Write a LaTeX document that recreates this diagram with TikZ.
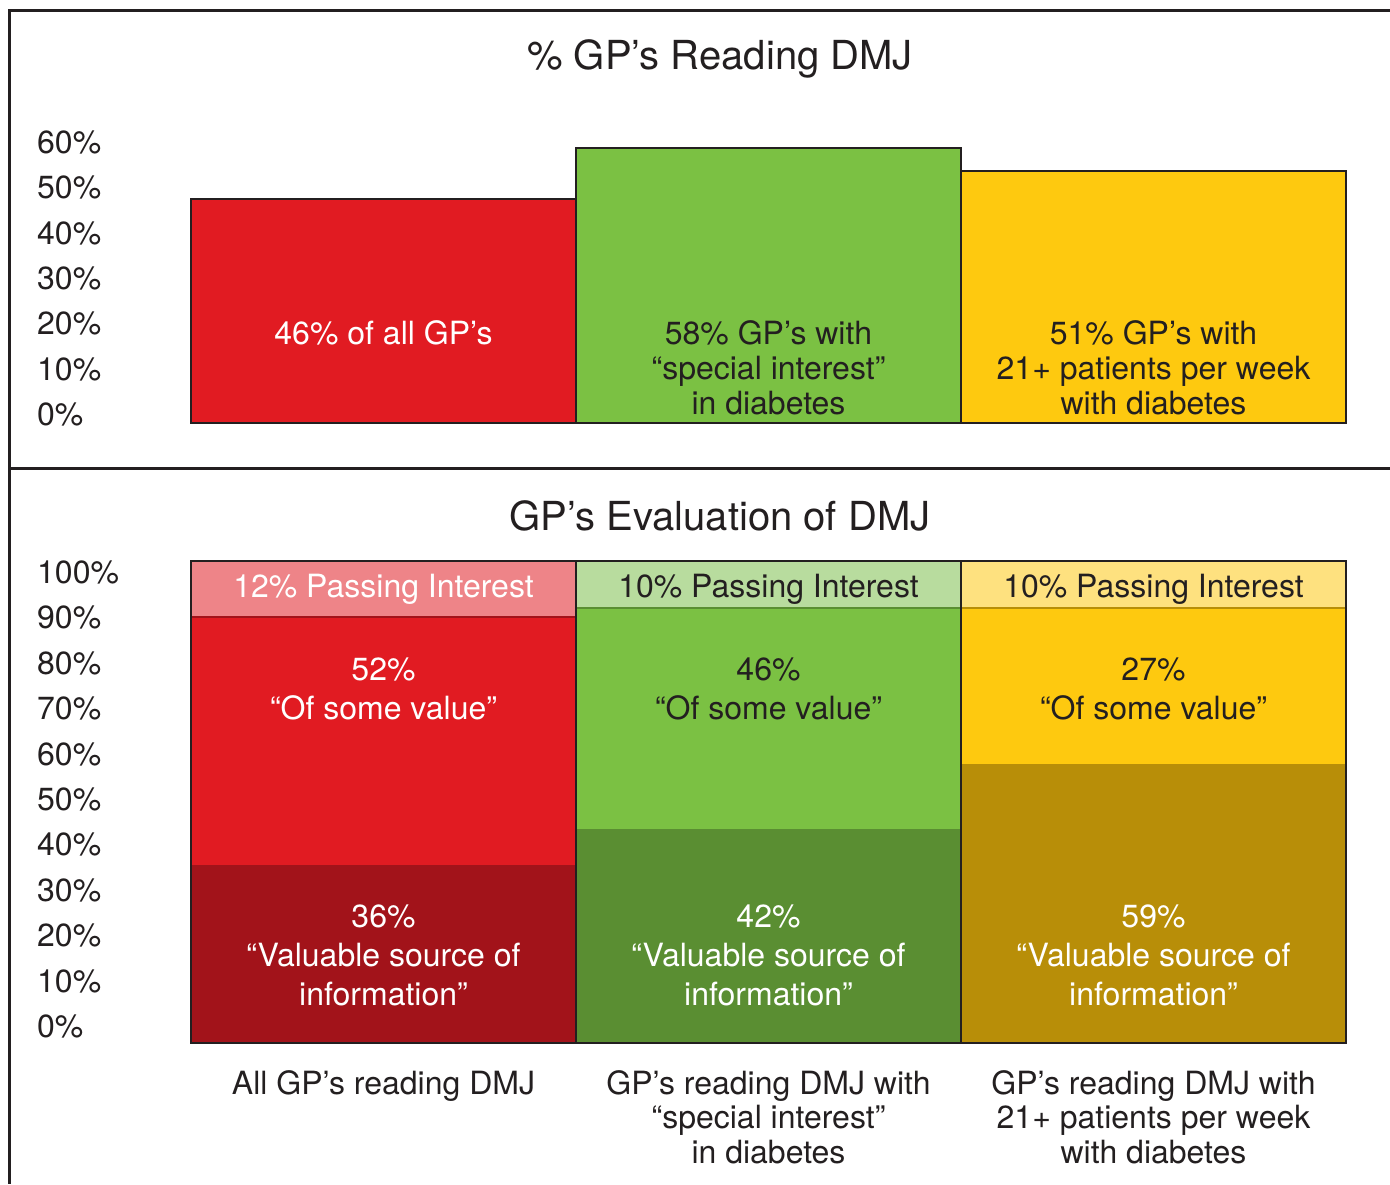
\documentclass[tikz,border=0pt]{standalone}
\usepackage{fontspec}
\setmainfont{TeX Gyre Heros}
\usepackage{tikz}
\definecolor{ink}{HTML}{231F20}
\definecolor{cred}{HTML}{E11B22}
\definecolor{cdarkred}{HTML}{A2131A}
\definecolor{clightred}{HTML}{EE8488}
\definecolor{cgreen}{HTML}{7BC143}
\definecolor{cdarkgreen}{HTML}{5A8E32}
\definecolor{clightgreen}{HTML}{B8DC9E}
\definecolor{cyellow}{HTML}{FEC90F}
\definecolor{cdarkyellow}{HTML}{B88E08}
\definecolor{clightyellow}{HTML}{FEE17F}
\tikzset{
  frameline/.style={draw=ink, line width=3pt},
  barline/.style={draw=ink, line width=2.6pt},
  sepline/.style={line width=1.6pt},
  ttl/.style={inner sep=0pt, anchor=base, text=ink, font=\fontsize{40}{44}\selectfont},
  ticklbl/.style={inner sep=0pt, anchor=base west, text=ink, font=\fontsize{32}{35}\selectfont},
  bartxt/.style={inner sep=0pt, align=center, font=\fontsize{32}{35}\selectfont},
  segtxt/.style={inner sep=0pt, align=center, font=\fontsize{32}{39}\selectfont},
  catlbl/.style={inner sep=0pt, align=center, text=ink, font=\fontsize{32}{34.5}\selectfont}
}

\begin{document}
\begin{tikzpicture}[x=1pt,y=-1pt]
  \useasboundingbox (0,0) rectangle (1390,1184);

  % frame and divider
  \draw[frameline] (1390,10) -- (9.5,10) -- (9.5,1184);
  \draw[frameline] (9.5,468) -- (1390,468);

  %% upper chart
  \node[ttl] (topttl) at (720,69.4) {\% GP’s Reading DMJ};
  \foreach \v [count=\i from 0] in {0,10,...,60}
    \node[ticklbl] (ta\i) at (37,425.5-45.33*\i) {\v\%};

  \draw[barline, fill=cred] (191,423) rectangle (576,199);
  \draw[barline, fill=cgreen] (576,423) rectangle (961,148);
  \draw[barline, fill=cyellow] (961,423) rectangle (1346,171);

  \node[bartxt, anchor=base, text=white] (redtxt) at (383.5,344.5) {46\% of all GP’s};
  \node[bartxt, text=ink] (greentxt) at (768.5,368) {58\% GP’s with\\“special interest”\\in diabetes};
  \node[bartxt, text=ink] (yellowtxt) at (1153.5,368) {51\% GP’s with\\21+ patients per week\\with diabetes};

  %% lower chart
  \node[ttl] (botttl) at (720,530.4) {GP’s Evaluation of DMJ};
  \foreach \v [count=\i from 0] in {0,10,...,100}
    \node[ticklbl] (tb\i) at (37,1037.5-45.4*\i) {\v\%};

  % red column
  \fill[clightred] (191,561) rectangle (576,617);
  \fill[cred] (191,617) rectangle (576,865);
  \fill[cdarkred] (191,865) rectangle (576,1043);
  \draw[sepline, draw=cdarkred] (191,617) -- (576,617);
  % green column
  \fill[clightgreen] (576,561) rectangle (961,608);
  \fill[cgreen] (576,608) rectangle (961,829);
  \fill[cdarkgreen] (576,829) rectangle (961,1043);
  \draw[sepline, draw=cdarkgreen] (576,608) -- (961,608);
  % yellow column
  \fill[clightyellow] (961,561) rectangle (1346,608);
  \fill[cyellow] (961,608) rectangle (1346,764);
  \fill[cdarkyellow] (961,764) rectangle (1346,1043);
  \draw[sepline, draw=cdarkyellow] (961,608) -- (1346,608);

  \draw[barline] (191,561) rectangle (576,1043);
  \draw[barline] (576,561) rectangle (961,1043);
  \draw[barline] (961,561) rectangle (1346,1043);

  \node[bartxt, anchor=base, text=white] (redpass) at (383.5,597.5) {12\% Passing Interest};
  \node[bartxt, anchor=base, text=ink] (greenpass) at (768.5,597.5) {10\% Passing Interest};
  \node[bartxt, anchor=base, text=ink] (yellowpass) at (1153.5,597.5) {10\% Passing Interest};

  \node[segtxt, text=white] (redsome) at (383.5,688.5) {52\%\\“Of some value”};
  \node[segtxt, text=ink] (greensome) at (768.5,688.5) {46\%\\“Of some value”};
  \node[segtxt, text=ink] (yellowsome) at (1153.5,688.5) {27\%\\“Of some value”};

  \node[segtxt, text=white] (redval) at (383.5,955) {36\%\\“Valuable source of\\information”};
  \node[segtxt, text=white] (greenval) at (768.5,955) {42\%\\“Valuable source of\\information”};
  \node[segtxt, text=white] (yellowval) at (1153.5,955) {59\%\\“Valuable source of\\information”};

  % category labels
  \node[catlbl, anchor=base] (cata) at (383.5,1094.5) {All GP’s reading DMJ};
  \node[catlbl] (catb) at (768.5,1117) {GP’s reading DMJ with\\“special interest”\\in diabetes};
  \node[catlbl] (catc) at (1153.5,1117) {GP’s reading DMJ with\\21+ patients per week\\with diabetes};
\end{tikzpicture}
\end{document}
